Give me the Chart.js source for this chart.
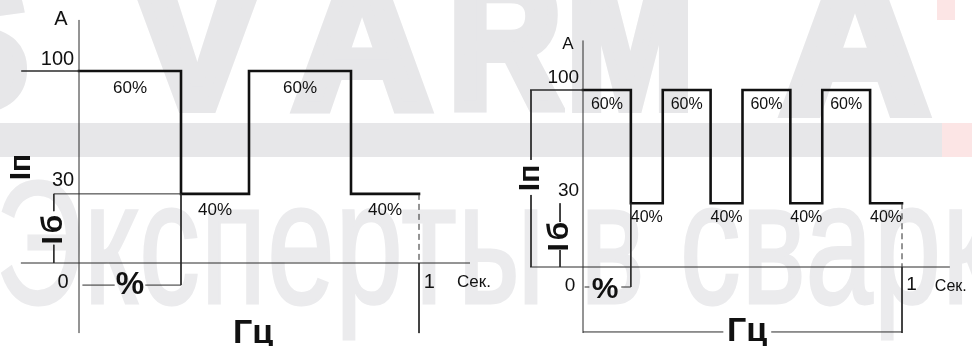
<!DOCTYPE html>
<html>
<head>
<meta charset="utf-8">
<script src="https://cdn.jsdelivr.net/npm/chart.js@4.4.1/dist/chart.umd.min.js"></script>
<style>
  html, body { margin: 0; padding: 0; background: #fff; }
  #wrap { position: relative; width: 972px; height: 346px; overflow: hidden; }
  #wrap canvas { position: absolute; left: 0; top: 0; }
  .wm { position: absolute; white-space: nowrap; font-family: "Liberation Sans", Arial, sans-serif; color: #e7e7e9; }
  .logo { top: -59px; width: 200px; text-align: center; font-size: 190px; line-height: 200px; font-weight: bold;
          -webkit-text-stroke: 12px #e7e7e9; }
  .bar { left: 0; top: 123px; width: 942px; height: 34px; background: #e7e7e9; }
  .red1 { left: 942px; top: 123px; width: 30px; height: 34px; background: #fce5e5; }
  .red2 { left: 937px; top: 0; width: 18px; height: 20px; background: #fce5e5; }
  .slogan { left: -4px; top: 202px; font-size: 121px; line-height: 118px; color: #ebebed;
            -webkit-text-stroke: 2px #ebebed; letter-spacing: 1px;
            transform-origin: 0 100px; transform: scaleY(1.44); }
</style>
</head>
<body>
<div id="wrap">
  <div class="wm logo" style="left:-135px">S</div>
  <div class="wm logo" style="left:97px">V</div>
  <div class="wm logo" style="left:262px">A</div>
  <div class="wm logo" style="left:405px;transform:scaleX(0.82)">R</div>
  <div class="wm logo" style="left:530px;transform:scaleX(0.8)">M</div>
  <div class="wm logo" style="left:755px;font-size:205px">A</div>
  <div class="wm bar"></div>
  <div class="wm red1"></div>
  <div class="wm red2"></div>
  <div class="wm slogan">Эксперты в сварке</div>
  <canvas id="leftChart" width="972" height="346"></canvas>
  <canvas id="rightChart" width="972" height="346"></canvas>
</div>
<script>
// pulse current diagrams: time in seconds (0..1), current in % of peak

// left: 2 pulses per second
const leftEdges  = [0, 0.30, 0.50, 0.80, 1.00];
const leftLevels = [100, 36, 100, 36, 36];

// right: 4 pulses per second
const rightEdges  = [0, 0.15, 0.25, 0.40, 0.50, 0.65, 0.75, 0.90, 1.00];
const rightLevels = [100, 36, 100, 36, 100, 36, 100, 36, 36];

const yTickLabels = ['0', '30', '100'];   // zero, base and peak level
const xTickLabels = ['0', '1'];
const dutyLabels  = ['60%', '40%'];       // peak part / base part of a pulse
const unitX = 'Сек.';
const unitY = 'A';
const peakName = 'Iп';
const baseName = 'Iб';
const dutyName = '%';
const freqName = 'Гц';

const FONT = '"Liberation Sans", Arial, sans-serif';
const INK = '#111';
const THIN = '#2b2b2b';

// layout of each diagram, in the diagram's own units
const leftGeo = {
  pad: { left: 79, right: 553, top: 71, bottom: 83 },
  xAxis: [-0.171, 1.15], yAxis: [-36.5, 126.6],
  topFrom: -0.17, baseFrom: -0.074,
  ipT: -0.168, ipV: 50, ipGap: null,
  ibT: -0.074, ibV: 18.2, ibGap: [27, 9.5],
  pctV: -11.5, pctFrom: 0.01, pctGap: [0.105, 0.195], pctT: 0.15, pctTextV: -11.5, pctSize: 32,
  hzV: -36.5, hzLine: false, hzT: 0.512, hzTextV: -41.7,
  aT: -0.053, aV: 126.6, aSize: 20,
  tickT: -0.014, tickSize: 20, tickUp: [6, 8],
  zeroT: -0.047, zeroV: -10.4, oneT: 1.03, oneV: -9.9, secT: 1.112, secV: -9.9, secSize: 17,
  dutySize: 17, dutyDy: [17, 16], nameSize: 30
};
const rightGeo = {
  pad: { left: 583, right: 70, top: 90, bottom: 79 },
  xAxis: [-0.166, 1.15], yAxis: [-37.3, 128],
  topFrom: -0.166, baseFrom: null,
  ipT: -0.163, ipV: 50.3, ipGap: [60.5, 40.7],
  ibT: -0.072, ibV: 18, ibGap: [25.4, 9.6],
  pctV: -11.3, pctFrom: 0.005, pctGap: [0.02, 0.12], pctT: 0.069, pctTextV: -13, pctSize: 30,
  hzV: -36.7, hzLine: true, hzGap: [0.44, 0.59], hzT: 0.514, hzTextV: -41.8,
  aT: -0.047, aV: 126, aSize: 17,
  tickT: -0.012, tickSize: 19, tickUp: [7, 7],
  zeroT: -0.041, zeroV: -10.7, oneT: 1.03, oneV: -10, secT: 1.103, secV: -11.3, secSize: 16,
  dutySize: 16, dutyDy: [15, 14], nameSize: 30
};

function thinLine(points, extra) {
  return Object.assign({
    data: points.map(p => ({ x: p[0], y: p[1] })),
    borderColor: THIN, borderWidth: 1, pointRadius: 0,
    clip: false, fill: false, tension: 0, borderCapStyle: 'butt'
  }, extra || {});
}

const textPlugin = {
  id: 'sketchText',
  afterDatasetsDraw(chart, args, opts) {
    const ctx = chart.ctx;
    const sx = chart.scales.x, sy = chart.scales.y;
    ctx.save();
    ctx.fillStyle = INK;
    (opts.items || []).forEach(it => {
      const px = sx.getPixelForValue(it.t) + (it.dx || 0);
      const py = sy.getPixelForValue(it.v) + (it.dy || 0);
      ctx.save();
      ctx.translate(px, py);
      if (it.rot) ctx.rotate(it.rot);
      ctx.font = it.font;
      ctx.textAlign = it.align || 'center';
      ctx.textBaseline = it.base || 'middle';
      if (it.spacing) ctx.letterSpacing = it.spacing;
      ctx.fillText(it.text, 0, 0);
      ctx.restore();
    });
    ctx.restore();
  }
};

function drawPulseChart(id, edges, levels, g) {
  const peak = levels[0];
  const base = levels[1];
  const lastT = edges[edges.length - 1];
  const firstLow = edges[1];

  const sets = [];
  // axes with arrow heads
  sets.push(thinLine([[g.xAxis[0], 0], [g.xAxis[1], 0]],
    { pointStyle: 'triangle', pointRadius: [0, 4], rotation: [0, 90], pointBackgroundColor: INK, pointBorderWidth: 0 }));
  sets.push(thinLine([[0, g.yAxis[0]], [0, g.yAxis[1]]],
    { pointStyle: 'triangle', pointRadius: [0, 4], rotation: [0, 0], pointBackgroundColor: INK, pointBorderWidth: 0 }));
  // peak level extension to the left
  sets.push(thinLine([[g.topFrom, peak], [0, peak]], { borderWidth: 1.5 }));
  if (g.baseFrom !== null) sets.push(thinLine([[g.baseFrom, base], [firstLow, base]]));
  // Iп dimension
  if (g.ipGap) {
    sets.push(thinLine([[g.ipT, peak], [g.ipT, g.ipGap[0]]]));
    sets.push(thinLine([[g.ipT, g.ipGap[1]], [g.ipT, 0]]));
  }
  // Iб dimension
  sets.push(thinLine([[g.ibT, base], [g.ibT, g.ibGap[0]]]));
  sets.push(thinLine([[g.ibT, g.ibGap[1]], [g.ibT, 0]]));
  // % dimension
  sets.push(thinLine([[firstLow, base], [firstLow, g.pctV]]));
  sets.push(thinLine([[g.pctFrom, g.pctV], [g.pctGap[0], g.pctV]]));
  sets.push(thinLine([[g.pctGap[1], g.pctV], [firstLow, g.pctV]]));
  // end of the 1 s period
  sets.push(thinLine([[lastT, base], [lastT, 0]], { borderDash: [6, 4] }));
  sets.push(thinLine([[lastT, 0], [lastT, g.yAxis[0]]]));
  // Гц dimension
  if (g.hzLine) {
    sets.push(thinLine([[0, g.hzV], [g.hzGap[0], g.hzV]]));
    sets.push(thinLine([[g.hzGap[1], g.hzV], [lastT, g.hzV]]));
  }
  // the pulse itself
  sets.push({
    data: edges.map((t, i) => ({ x: t, y: levels[i] })),
    stepped: true, borderColor: INK, borderWidth: 2.6, pointRadius: 0,
    clip: false, fill: false, borderJoinStyle: 'miter', borderCapStyle: 'square'
  });

  const items = [];
  // duty labels at the middle of every peak / base part
  for (let i = 0; i < edges.length - 1; i++) {
    const mid = (edges[i] + edges[i + 1]) / 2;
    const hi = levels[i] === peak;
    items.push({ text: hi ? dutyLabels[0] : dutyLabels[1], t: mid, v: levels[i],
      dy: hi ? g.dutyDy[0] : g.dutyDy[1], font: g.dutySize + 'px ' + FONT });
  }
  const tf = g.tickSize + 'px ' + FONT;
  items.push({ text: yTickLabels[2], t: g.tickT, v: peak, dy: -g.tickUp[0], align: 'right', base: 'alphabetic', font: tf });
  items.push({ text: yTickLabels[1], t: g.tickT, v: base, dy: -g.tickUp[1], align: 'right', base: 'alphabetic', font: tf });
  items.push({ text: yTickLabels[0], t: g.zeroT, v: g.zeroV, font: tf });
  items.push({ text: xTickLabels[1], t: g.oneT, v: g.oneV, font: tf });
  items.push({ text: unitX, t: g.secT, v: g.secV, align: 'left', font: g.secSize + 'px ' + FONT });
  items.push({ text: unitY, t: g.aT, v: g.aV, font: g.aSize + 'px ' + FONT });
  items.push({ text: peakName, t: g.ipT, v: g.ipV, rot: -Math.PI / 2, font: 'bold ' + g.nameSize + 'px ' + FONT });
  items.push({ text: baseName, t: g.ibT, v: g.ibV, rot: -Math.PI / 2, font: 'bold ' + g.nameSize + 'px ' + FONT, spacing: '3px' });
  items.push({ text: dutyName, t: g.pctT, v: g.pctTextV, font: 'bold ' + g.pctSize + 'px ' + FONT });
  items.push({ text: freqName, t: g.hzT, v: g.hzTextV, base: 'alphabetic', font: 'bold 34px ' + FONT });

  return new Chart(document.getElementById(id), {
    type: 'line',
    data: { datasets: sets },
    options: {
      responsive: false,
      animation: false,
      devicePixelRatio: 1,
      layout: { padding: g.pad },
      scales: {
        x: { type: 'linear', min: 0, max: 1, display: false },
        y: { type: 'linear', min: 0, max: 100, display: false }
      },
      plugins: {
        legend: { display: false },
        tooltip: { enabled: false },
        sketchText: { items: items }
      }
    },
    plugins: [textPlugin]
  });
}

drawPulseChart('leftChart', leftEdges, leftLevels, leftGeo);
drawPulseChart('rightChart', rightEdges, rightLevels, rightGeo);
</script>
</body>
</html>
